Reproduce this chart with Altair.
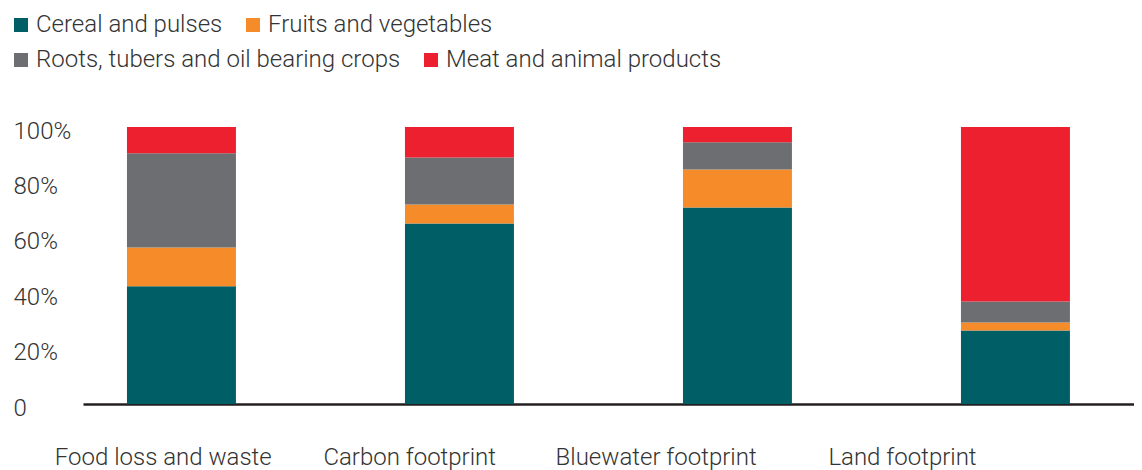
import altair as alt
import pandas as pd

categories = ["Food loss and waste", "Carbon footprint", "Bluewater footprint", "Land footprint"]
groups = ["Cereal and pulses", "Fruits and vegetables",
          "Roots, tubers and oil bearing crops", "Meat and animal products"]
cereal = [42.5, 65.2, 70.9, 26.5]
fruits = [14.0, 6.8, 13.8, 2.9]
roots = [34.0, 17.0, 9.8, 7.6]
meat = [9.5, 11.0, 5.5, 63.0]
colors = ["#005f66", "#f68b29", "#6d6e71", "#ec202e"]
y_ticks = [0, 20, 40, 60, 80, 100]

rows = []
for gi, (g, vals) in enumerate(zip(groups, [cereal, fruits, roots, meat])):
    for c, v in zip(categories, vals):
        rows.append({"category": c, "group": g, "value": v, "order": gi})
df = pd.DataFrame(rows)
labels_df = pd.DataFrame({"category": categories})

FONT = "Roboto"
TEXT = "#333333"
FS = 24
W, H = 1051, 277

x_enc_kwargs = dict(sort=categories,
                    scale=alt.Scale(paddingInner=0.608, paddingOuter=0.1943, align=0.407))
y_axis = alt.Axis(title=None, values=y_ticks,
                  labelExpr="datum.value == 0 ? '0' : datum.value + '%'",
                  domain=False, ticks=False, tickSize=0, grid=False,
                  labelAlign="left", labelPadding=70, labelFlush=False,
                  labelFont=FONT, labelFontSize=FS, labelColor=TEXT,
                  labelFontWeight=300, labelOffset=4, labelBaseline="middle")


def legend(y):
    return alt.Legend(orient="none", legendX=-74, legendY=y,
                      direction="horizontal", title=None, columns=2,
                      symbolType="square", symbolSize=196,
                      symbolStrokeWidth=0, symbolOpacity=1,
                      labelFont=FONT, labelFontSize=FS,
                      labelFontWeight=300, labelColor=TEXT,
                      labelOffset=3, columnPadding=18,
                      labelLimit=800, padding=0)


base = alt.Chart(df).transform_stack(
    stack="value", as_=["y0", "y1"], groupby=["category"],
    sort=[alt.SortField("order", "ascending")],
)

bars_a = base.transform_filter(
    alt.FieldOneOfPredicate(field="group", oneOf=groups[:2])
).mark_bar().encode(
    x=alt.X("category:N", axis=alt.Axis(title=None, labels=False, ticks=False,
                                        domainColor="#231f20", domainWidth=2.6),
            **x_enc_kwargs),
    y=alt.Y("y0:Q", scale=alt.Scale(domain=[0, 100]), axis=y_axis),
    y2="y1:Q",
    color=alt.Color("group:N", scale=alt.Scale(domain=groups[:2], range=colors[:2]),
                    legend=legend(-114)),
)

bars_b = base.transform_filter(
    alt.FieldOneOfPredicate(field="group", oneOf=groups[2:])
).mark_bar().encode(
    x=alt.X("category:N", axis=None, **x_enc_kwargs),
    y=alt.Y("y0:Q", scale=alt.Scale(domain=[0, 100]), axis=y_axis),
    y2="y1:Q",
    color=alt.Color("group:N", scale=alt.Scale(domain=groups[2:], range=colors[2:]),
                    legend=legend(-79)),
)

texts = alt.Chart(labels_df).mark_text(
    font=FONT, fontSize=FS, color=TEXT, fontWeight=300,
    baseline="middle", align="center"
).encode(
    x=alt.X("category:N", sort=categories,
            scale=alt.Scale(type="point", padding=0.6327, align=0.2575), axis=None),
    y=alt.value(331),
    text="category:N",
)

chart = alt.layer(bars_a, bars_b, texts).resolve_scale(
    x="independent", color="independent"
).properties(
    width=W, height=H,
    padding={"left": 1, "top": 5, "right": 0, "bottom": 0},
).configure_view(stroke=None)

chart.save("out.html", embed_options={"renderer": "svg", "actions": False})
